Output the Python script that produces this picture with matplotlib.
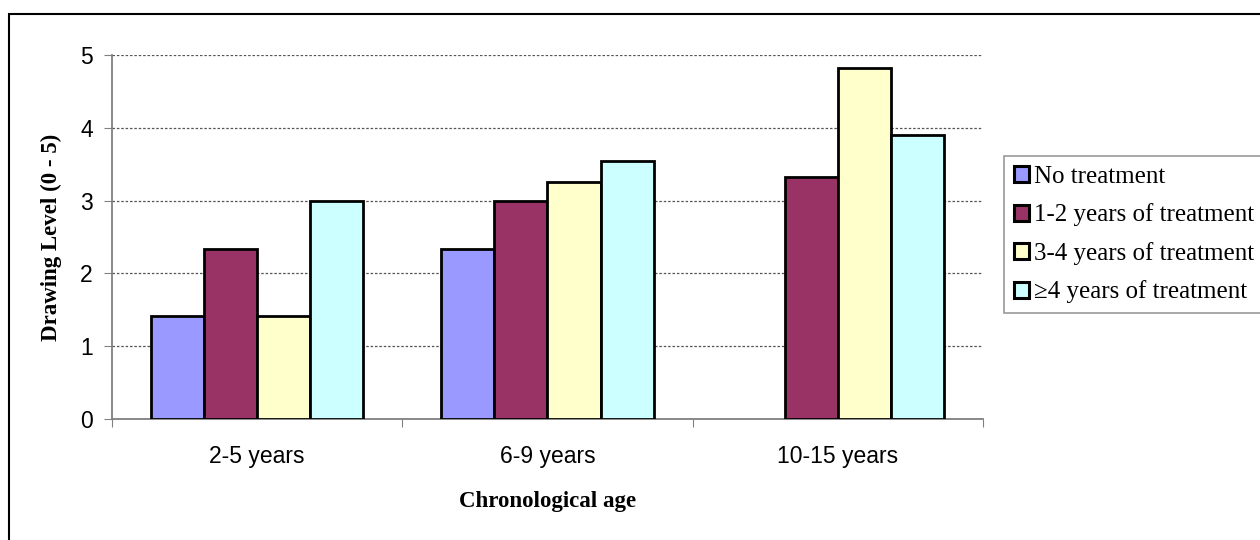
import numpy as np
import matplotlib.pyplot as plt
from matplotlib.patches import Rectangle, Patch

# data
age_groups = ["2-5 years", "6-9 years", "10-15 years"]
series_names = ["No treatment", "1-2 years of treatment",
                "3-4 years of treatment", "\u22654 years of treatment"]
no_treatment = [1.42, 2.33, np.nan]
treat_1_2 = [2.33, 3.0, 3.32]
treat_3_4 = [1.42, 3.26, 4.82]
treat_4_plus = [3.0, 3.55, 3.9]
colors = ["#9999FF", "#993366", "#FFFFCC", "#CCFFFF"]

all_series = [no_treatment, treat_1_2, treat_3_4, treat_4_plus]

W, H = 1260, 540
fig = plt.figure(figsize=(W / 100, H / 100), dpi=100)
ax = fig.add_axes([112 / W, 1 - 419 / H, (983 - 112) / W, (419 - 55) / H])

# outer chart border (only top and left visible in the reference)
fig.patches.append(Rectangle((8.5 / W, -0.1), 1.2, 1 - 14 / H + 0.1,
                             transform=fig.transFigure, fill=False,
                             edgecolor="black", linewidth=1.5))

x = np.arange(len(age_groups))
bw = 0.1826
for i, vals in enumerate(all_series):
    ax.bar(x + (i - 1.5) * bw, vals, width=bw, color=colors[i],
           edgecolor="black", linewidth=2.0, zorder=3)

ax.set_xlim(-0.5, 2.5)
ax.set_ylim(0, 5)
ax.set_yticks([0, 1, 2, 3, 4, 5])
ax.set_xticks([-0.5, 0.5, 1.5, 2.5])
ax.set_xticklabels([])
ax.set_xticks(x, minor=True)
ax.set_xticklabels(age_groups, minor=True, fontsize=16.5,
                   family="Liberation Sans")
ax.tick_params(axis="x", which="minor", length=0, pad=19)
ax.tick_params(axis="x", which="major", length=5.5, color="#808080",
               direction="out")
ax.tick_params(axis="y", length=5.8, color="#808080", labelsize=16.5, pad=8)
for lbl in ax.get_yticklabels():
    lbl.set_family("Liberation Sans")

ax.yaxis.grid(True, linestyle=(0, (2, 1.5)), color="#555555", linewidth=0.9)
ax.set_axisbelow(True)
for s in ["top", "right"]:
    ax.spines[s].set_visible(False)
ax.spines["left"].set_color("#808080")
ax.spines["bottom"].set_color("#808080")
ax.spines["left"].set_linewidth(1.3)
ax.spines["bottom"].set_linewidth(1.3)

fig.text(51 / W, 1 - 237 / H, "Drawing Level (0 - 5)", rotation=90,
         ha="center", va="center", fontsize=16.5, fontweight="bold",
         family="Liberation Serif")
fig.text(548 / W, 1 - 502 / H, "Chronological age", ha="center",
         va="center", fontsize=16.5, fontweight="bold",
         family="Liberation Serif")

handles = [Patch(facecolor=c, edgecolor="black", linewidth=2.2) for c in colors]
leg = fig.legend(handles, series_names, loc="upper left",
                 bbox_to_anchor=(1004 / W, 1 - 156 / H),
                 prop={"family": ["Liberation Serif", "DejaVu Serif"], "size": 18},
                 frameon=True, fancybox=False, edgecolor="#808080",
                 handlelength=0.6, handleheight=0.6, handletextpad=0.2,
                 labelspacing=0.62, borderpad=0.4, borderaxespad=0)
leg.get_frame().set_linewidth(1.2)

fig.savefig("out.png", dpi=100)
